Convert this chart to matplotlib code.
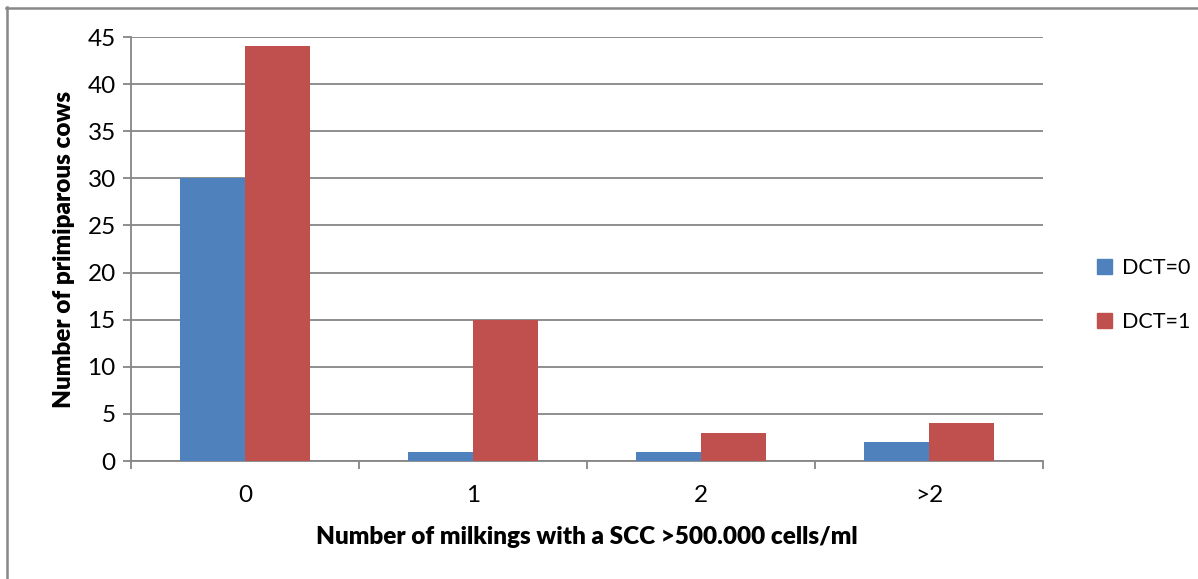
import numpy as np
import matplotlib.pyplot as plt
from matplotlib.lines import Line2D
from matplotlib.patches import Patch

categories = ['0', '1', '2', '>2']
dct0 = [30, 1, 1, 2]
dct1 = [44, 15, 3, 4]
series_names = ['DCT=0', 'DCT=1']

BLUE = '#4F81BD'
RED = '#C0504D'
GRID = '#868686'

plt.rcParams['font.family'] = ['Lato', 'DejaVu Sans']

W, H = 1198, 579
fig = plt.figure(figsize=(W / 100, H / 100), dpi=100)

# axes box in pixel coords
left, right, top, bottom = 131, 1043, 37, 461
ax = fig.add_axes([left / W, 1 - bottom / H, (right - left) / W, (bottom - top) / H])

x = np.arange(len(categories))
bw = 2 / 3.5 / 2  # excel gap width 150%
ax.bar(x - bw / 2, dct0, width=bw, color=BLUE, label=series_names[0], zorder=3)
ax.bar(x + bw / 2, dct1, width=bw, color=RED, label=series_names[1], zorder=3)

ax.set_xlim(-0.5, len(categories) - 0.5)
ax.set_ylim(0, 45)
ax.set_yticks(range(0, 46, 5))
ax.yaxis.grid(True, color=GRID, linewidth=1.3, zorder=0)
ax.set_axisbelow(True)

ax.set_xticks(np.arange(-0.5, len(categories), 1.0))
ax.set_xticklabels([])
ax.set_xticks(x, minor=True)
ax.set_xticklabels(categories, minor=True)
ax.tick_params(axis='x', which='major', length=6, width=1.3, color=GRID, direction='out')
ax.tick_params(axis='x', which='minor', length=0, labelsize=17.5, pad=17)
ax.tick_params(axis='y', length=6, width=1.3, color=GRID, labelsize=17.5, pad=5)

for s in ['top', 'right']:
    ax.spines[s].set_visible(False)
for s in ['left', 'bottom']:
    ax.spines[s].set_color(GRID)
    ax.spines[s].set_linewidth(1.3)

ax.set_ylabel('Number of primiparous cows', fontsize=17.5, fontweight='heavy', labelpad=9)
ax.set_xlabel('Number of milkings with a SCC >500.000 cells/ml', fontsize=17.5,
              fontweight='heavy', labelpad=15)

handles = [Patch(color=BLUE), Patch(color=RED)]
fig.legend(handles, series_names, loc='center left', bbox_to_anchor=(1078 / W, 1 - 295 / H),
           frameon=False, fontsize=15.5, handlelength=0.7, handleheight=0.7,
           handletextpad=0.45, labelspacing=1.55)

# outer chart border (only top and left visible)
fig.add_artist(Line2D([6.5 / W, 6.5 / W], [0, 1 - 7 / H], color='#888888', linewidth=1.8))
fig.add_artist(Line2D([6 / W, 1], [1 - 7.5 / H, 1 - 7.5 / H], color='#888888', linewidth=1.8))

fig.savefig('out.png', dpi=100)
